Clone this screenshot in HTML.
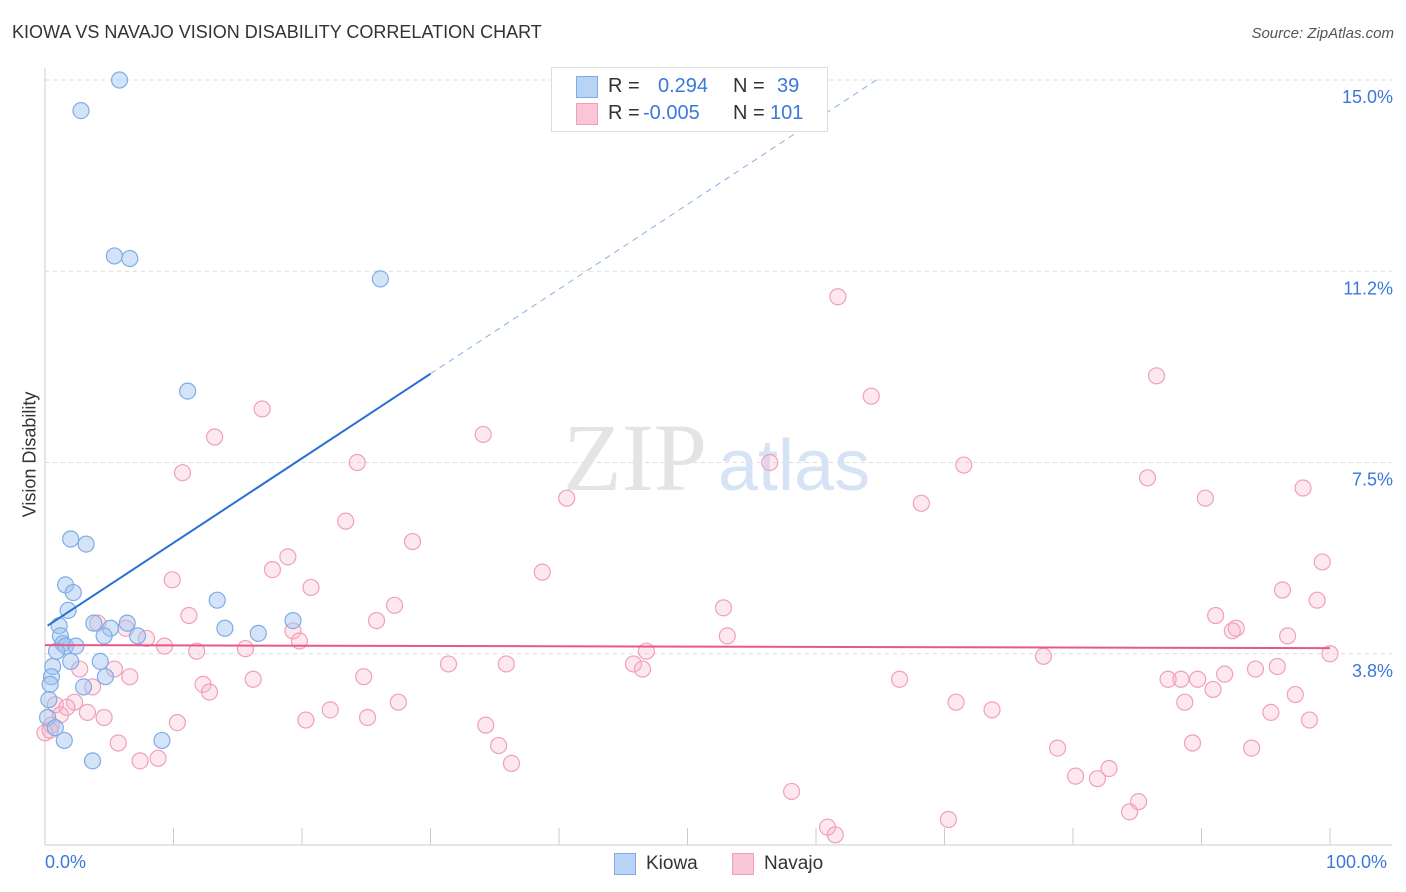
<!DOCTYPE html>
<html><head><meta charset="utf-8">
<style>
body{margin:0;background:#fff;font-family:"Liberation Sans",sans-serif;}
#wrap{position:relative;width:1406px;height:892px;overflow:hidden;}
.t{position:absolute;white-space:nowrap;}
</style></head><body>
<div id="wrap">
<div class="t" style="left:12px;top:22px;font-size:18px;color:#333;">KIOWA VS NAVAJO VISION DISABILITY CORRELATION CHART</div>
<div class="t" style="right:12px;top:25px;font-size:15px;color:#555;font-style:italic;">Source: ZipAtlas.com</div>
<svg id="plot" width="1406" height="892" style="position:absolute;left:0;top:0"></svg>
</div>
<script>
const kiowaX=[5.8,2.8,5.4,6.6,26.1,11.1,2.0,3.2,1.6,2.2,1.8,13.4,19.3,3.8,6.4,5.1,1.1,14.0,16.6,7.2,1.2,4.6,1.4,1.6,2.4,0.9,2.0,4.3,0.6,0.5,4.7,0.4,3.0,0.3,0.2,0.8,1.5,9.1,3.7];
const kiowaY=[15.0,14.4,11.55,11.5,11.1,8.9,6.0,5.9,5.1,4.95,4.6,4.8,4.4,4.35,4.35,4.25,4.3,4.25,4.15,4.1,4.1,4.1,3.95,3.9,3.9,3.8,3.6,3.6,3.5,3.3,3.3,3.15,3.1,2.85,2.5,2.3,2.05,2.05,1.65];
const navajoX=[61.7,86.5,64.3,16.9,13.2,34.1,56.4,24.3,71.5,10.7,85.8,90.3,97.9,40.6,68.2,23.4,28.6,18.9,17.7,38.7,9.9,99.4,20.7,96.3,27.2,52.8,99.0,11.2,91.1,25.8,92.7,92.4,6.3,19.3,4.1,7.9,19.8,53.1,96.7,9.3,15.6,11.8,46.8,100,77.7,31.4,35.9,45.8,46.5,95.9,94.2,2.7,5.4,91.8,24.8,6.6,16.2,66.5,87.4,88.4,89.7,12.3,3.7,12.8,90.9,97.3,27.5,70.9,88.7,2.3,0.8,1.7,73.7,22.2,3.3,1.2,95.4,4.6,20.3,25.1,10.3,34.3,98.4,0.5,0.0,0.4,5.7,35.3,89.3,78.8,93.9,7.4,8.8,36.3,80.2,82.8,81.9,58.1,85.1,84.4,70.3,60.9,61.5];
const navajoY=[10.75,9.2,8.8,8.55,8.0,8.05,7.5,7.5,7.45,7.3,7.2,6.8,7.0,6.8,6.7,6.35,5.95,5.65,5.4,5.35,5.2,5.55,5.05,5.0,4.7,4.65,4.8,4.5,4.5,4.4,4.25,4.2,4.25,4.2,4.35,4.05,4.0,4.1,4.1,3.9,3.85,3.8,3.8,3.75,3.7,3.55,3.55,3.55,3.45,3.5,3.45,3.45,3.45,3.35,3.3,3.3,3.25,3.25,3.25,3.25,3.25,3.15,3.1,3.0,3.05,2.95,2.8,2.8,2.8,2.8,2.75,2.7,2.65,2.65,2.6,2.55,2.6,2.5,2.45,2.5,2.4,2.35,2.45,2.35,2.2,2.25,2.0,1.95,2.0,1.9,1.9,1.65,1.7,1.6,1.35,1.5,1.3,1.05,0.85,0.65,0.5,0.35,0.2];
const yTicks=[3.75,7.5,11.25,15.0];
const yTickLabels=["3.8%","7.5%","11.2%","15.0%"];
const kiowaTrend=[[0.2,4.3],[30,9.24]];
const kiowaTrendExt=[[30,9.24],[65,15.05]];
const navajoTrend=[[0,3.92],[100,3.86]];

const sx=v=>45+v*12.85, sy=v=>845-v*51;
const svg=document.getElementById('plot');
const NS='http://www.w3.org/2000/svg';
function mk(tag,attrs){const e=document.createElementNS(NS,tag);for(const k in attrs)e.setAttribute(k,attrs[k]);svg.appendChild(e);return e;}
yTicks.forEach((t,i)=>{
  const g=mk('line',{x1:45,x2:1392,y1:sy(t),y2:sy(t),stroke:'#ddd','stroke-dasharray':'4,4'});
  
  
  const tx=mk('text',{x:1393,y:sy(t)+23,'text-anchor':'end','font-size':18,fill:'#3b78d8','font-family':'Liberation Sans, sans-serif'});
  tx.textContent=yTickLabels[i];
  
  
});
const ax=mk('line',{x1:45,x2:1392,y1:845,y2:845,stroke:'#ccc'});


const ay=mk('line',{x1:45,x2:45,y1:68,y2:845,stroke:'#ccc'});


for(let i=0;i<=10;i++){const tk=mk('line',{x1:sx(i*10),x2:sx(i*10),y1:828,y2:845,stroke:'#ccc'});

}
const wm1=mk('text',{x:635,y:490,'text-anchor':'middle','font-size':96,fill:'#e4e4e4','font-family':'Liberation Serif, serif'});wm1.textContent='ZIP';


const wm2=mk('text',{x:718,y:490,'font-size':72,fill:'#d6e3f5','font-family':'Liberation Sans, sans-serif'});wm2.textContent='atlas';


navajoX.forEach((x,i)=>{const c=mk('circle',{cx:sx(x),cy:sy(navajoY[i]),r:8,fill:'rgba(248,180,200,0.3)',stroke:'#f0a0ba','stroke-width':1.2});

});
kiowaX.forEach((x,i)=>{const c=mk('circle',{cx:sx(x),cy:sy(kiowaY[i]),r:8,fill:'rgba(160,195,240,0.45)',stroke:'#80ace6','stroke-width':1.2});

});
const l1=mk('line',{x1:sx(kiowaTrend[0][0]),y1:sy(kiowaTrend[0][1]),x2:sx(kiowaTrend[1][0]),y2:sy(kiowaTrend[1][1]),stroke:'#2a6fd6','stroke-width':2});


const l2=mk('line',{x1:sx(kiowaTrendExt[0][0]),y1:sy(kiowaTrendExt[0][1]),x2:sx(kiowaTrendExt[1][0]),y2:sy(kiowaTrendExt[1][1]),stroke:'#8ab0e0','stroke-width':1,'stroke-dasharray':'6,5'});


const l3=mk('line',{x1:sx(navajoTrend[0][0]),y1:sy(navajoTrend[0][1]),x2:sx(navajoTrend[1][0]),y2:sy(navajoTrend[1][1]),stroke:'#e8578a','stroke-width':2});


</script>
<div class="t" style="left:-40px;top:444px;font-size:18px;color:#333;transform:rotate(-90deg);width:140px;text-align:center;">Vision Disability</div>
<div class="t" style="left:45px;top:852px;font-size:18px;color:#3b78d8;">0.0%</div>
<div class="t" style="left:1326px;top:852px;font-size:18px;color:#3b78d8;">100.0%</div>
<div style="position:absolute;left:551px;top:67px;width:275px;height:63px;border:1px solid #ddd;background:#fff;font-size:20px;">
 <div style="position:absolute;left:24px;top:8px;width:20px;height:20px;background:#b8d3f5;border:1px solid #80ace6;"></div>
 <div class="t" style="left:56px;top:7px;color:#333;">R =</div>
 <div class="t" style="left:106px;top:7px;color:#3b78d8;">0.294</div>
 <div class="t" style="left:181px;top:7px;color:#333;">N =</div>
 <div class="t" style="left:225px;top:7px;color:#3b78d8;">39</div>
 <div style="position:absolute;left:24px;top:35px;width:20px;height:20px;background:#f9c6d6;border:1px solid #f0a0ba;"></div>
 <div class="t" style="left:56px;top:34px;color:#333;">R =</div>
 <div class="t" style="left:91px;top:34px;color:#3b78d8;">-0.005</div>
 <div class="t" style="left:181px;top:34px;color:#333;">N =</div>
 <div class="t" style="left:218px;top:34px;color:#3b78d8;">101</div>
</div>
<div style="position:absolute;left:614px;top:853px;">
 <div style="position:absolute;left:0;top:0;width:20px;height:20px;background:#b8d3f5;border:1px solid #80ace6;"></div>
 <div class="t" style="left:32px;top:0;font-size:19px;color:#333;">Kiowa</div>
</div>
<div style="position:absolute;left:732px;top:853px;">
 <div style="position:absolute;left:0;top:0;width:20px;height:20px;background:#f9c6d6;border:1px solid #f0a0ba;"></div>
 <div class="t" style="left:32px;top:0;font-size:19px;color:#333;">Navajo</div>
</div>
</body></html>
